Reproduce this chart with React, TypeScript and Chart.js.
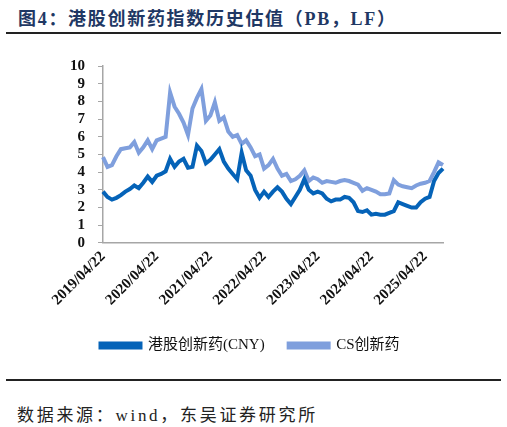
import { useEffect, useRef } from "react";
import { Chart, registerables } from "chart.js";

Chart.register(...registerables);

// monthly points, 2019/04 -> 2025/08
const START_YEAR = 2019;
const START_MONTH = 4;

const hkInnovDrug = [
  2.9, 2.6, 2.45, 2.55, 2.7, 2.9, 3.05, 3.25, 3.1, 3.4, 3.75, 3.45,
  3.8, 3.9, 4.05, 4.75, 4.3, 4.6, 4.75, 4.25, 4.3, 5.5, 5.2, 4.5,
  4.7, 5.0, 5.3, 4.6, 4.2, 3.9, 3.6, 5.1, 4.1, 3.8, 3.0, 2.55,
  2.9, 2.6, 2.9, 3.15, 2.9, 2.5, 2.2, 2.6, 3.0, 3.6, 3.0, 2.8,
  2.9, 2.8, 2.5, 2.35, 2.45, 2.45, 2.6, 2.55, 2.3, 1.8, 1.75, 1.85,
  1.6, 1.65, 1.6, 1.6, 1.7, 1.8, 2.3, 2.2, 2.1, 2.0, 2.0, 2.3,
  2.5, 2.6, 3.5, 3.95, 4.2,
];

const csInnovDrug = [
  4.85, 4.3, 4.4, 4.9, 5.3, 5.35, 5.4, 5.7, 5.1, 5.4, 5.8, 5.3,
  5.8, 5.9, 6.0, 8.5, 7.7, 7.3, 6.8, 6.1, 7.6, 8.2, 8.7, 6.9,
  7.2, 7.95, 6.9, 7.1, 6.3, 6.0, 6.1, 5.6, 5.8, 5.4, 4.9, 5.0,
  4.2, 4.4, 4.75, 4.2, 3.8, 3.9, 3.5, 3.6, 3.8, 4.1, 3.5, 3.7,
  3.6, 3.4, 3.5, 3.45, 3.4, 3.5, 3.55, 3.5, 3.4, 3.3, 2.95, 3.1,
  3.0, 2.9, 2.75, 2.75, 2.8, 3.55, 3.3, 3.2, 3.15, 3.1, 3.25, 3.35,
  3.4, 3.5, 4.0, 4.55, 4.4,
];

const tickLabels = [
  "2019/04/22", "2020/04/22", "2021/04/22", "2022/04/22",
  "2023/04/22", "2024/04/22", "2025/04/22",
];

const categories = hkInnovDrug.map((_, i) => {
  const m = START_MONTH - 1 + i;
  const y = START_YEAR + Math.floor(m / 12);
  const mm = String((m % 12) + 1).padStart(2, "0");
  return `${y}/${mm}/22`;
});

const DARK = "#0563b8";
const LIGHT = "#7f9fdd";
const AXIS = "#a6a6a6";

export default function App() {
  const canvasRef = useRef<HTMLCanvasElement | null>(null);

  useEffect(() => {
    if (!canvasRef.current) return;

    const chart = new Chart(canvasRef.current, {
      type: "line",
      data: {
        labels: categories,
        datasets: [
          {
            label: "港股创新药(CNY)",
            data: hkInnovDrug,
            borderColor: DARK,
            backgroundColor: DARK,
            borderWidth: 4,
            pointRadius: 0,
            tension: 0,
          },
          {
            label: "CS创新药",
            data: csInnovDrug,
            borderColor: LIGHT,
            backgroundColor: LIGHT,
            borderWidth: 4,
            pointRadius: 0,
            tension: 0,
          },
        ],
      },
      options: {
        responsive: false,
        animation: false,
        layout: { padding: { left: 57, right: 64, top: 26, bottom: 7 } },
        plugins: {
          tooltip: { enabled: false },
          legend: {
            position: "bottom",
            labels: {
              boxWidth: 40,
              boxHeight: 4,
              padding: 24,
              color: "#111",
              font: { family: "'Liberation Serif', 'Noto Sans CJK SC'", size: 15 },
            },
          },
        },
        scales: {
          x: {
            offset: false,
            grid: { display: false, drawTicks: false },
            border: { color: AXIS, width: 1.5 },
            ticks: {
              autoSkip: false,
              maxRotation: 45,
              minRotation: 45,
              padding: 5,
              color: "#111",
              font: { family: "'Liberation Serif'", size: 15, weight: "bold" },
              callback: (_v: any, i: number) =>
                tickLabels.includes(categories[i]) ? categories[i] : null,
            },
          },
          y: {
            min: 0,
            max: 10,
            grid: { drawOnChartArea: false, drawTicks: true, tickLength: 5, color: AXIS },
            border: { color: AXIS, width: 1.5 },
            ticks: {
              stepSize: 1,
              autoSkip: false,
              padding: 13,
              color: "#111",
              font: { family: "'Liberation Serif'", size: 15, weight: "bold" },
            },
          },
        },
      },
    });

    return () => chart.destroy();
  }, []);

  return (
    <div
      style={{
        position: "absolute",
        left: 0,
        top: 0,
        width: 507,
        height: 427,
        background: "#fff",
        overflow: "hidden",
      }}
    >
      <div
        style={{
          position: "absolute",
          left: 18,
          top: 4,
          fontFamily: "'Liberation Serif', 'Noto Sans CJK SC'",
          fontWeight: "bold",
          fontSize: 18,
          letterSpacing: 1.7,
          color: "#1f3864",
          whiteSpace: "nowrap",
        }}
      >
        图4：港股创新药指数历史估值（PB，LF）
      </div>
      <div style={{ position: "absolute", left: 6, top: 32, width: 495, height: 2, background: "#222" }} />
      <canvas
        ref={canvasRef}
        width={507}
        height={330}
        style={{ position: "absolute", left: 0, top: 40, width: 507, height: 330 }}
      />
      <div style={{ position: "absolute", left: 6, top: 379, width: 495, height: 2, background: "#222" }} />
      <div
        style={{
          position: "absolute",
          left: 17,
          top: 401,
          fontFamily: "'Liberation Serif', 'Noto Sans CJK SC'",
          fontSize: 17,
          letterSpacing: 2.7,
          color: "#222",
          whiteSpace: "nowrap",
        }}
      >
        数据来源：wind，东吴证券研究所
      </div>
    </div>
  );
}
